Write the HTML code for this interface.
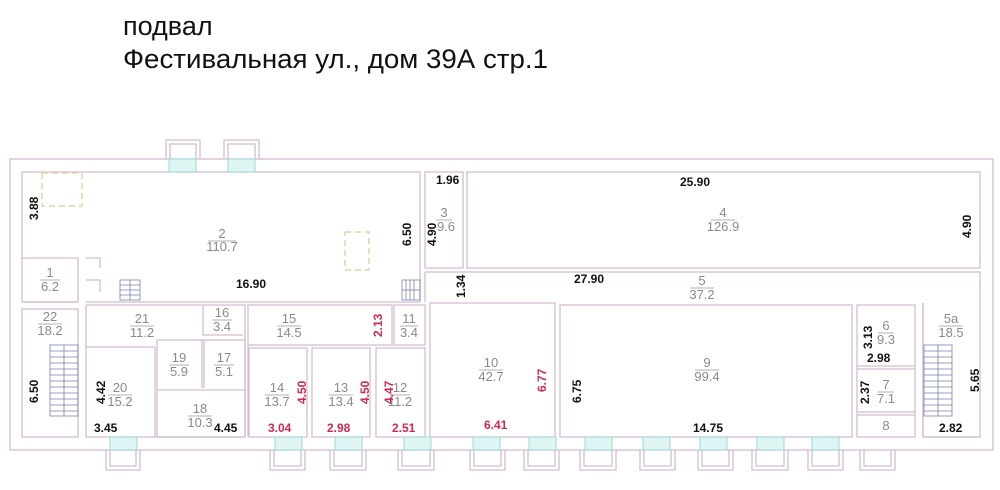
<!DOCTYPE html>
<html><head><meta charset="utf-8"><style>
html,body{margin:0;padding:0;background:#fff;width:1000px;height:490px;overflow:hidden}
svg{display:block}
.t{font-family:"Liberation Sans",sans-serif}
.d{font-family:"Liberation Sans",sans-serif;font-weight:bold;font-size:12px;fill:#111}
.r{font-family:"Liberation Sans",sans-serif;font-weight:bold;font-size:12px;fill:#d02858}
.n{font-family:"Liberation Sans",sans-serif;font-size:13px;fill:#8a8a8a;text-anchor:middle}
</style></head><body>
<svg width="1000" height="490" viewBox="0 0 1000 490" xmlns="http://www.w3.org/2000/svg">
<text class="t" x="123" y="35" font-size="27" fill="#111">подвал</text>
<text class="t" x="123" y="68" font-size="27" fill="#111" textLength="425" lengthAdjust="spacingAndGlyphs">Фестивальная ул., дом 39А стр.1</text>

<g fill="none" stroke="#d2bcd0" stroke-width="1.3">
<rect x="10" y="159" width="983" height="291"/>
<path d="M166 159V140H200V159M170 159V144H196V159M224 159V140H259V159M228 159V144H255V159"/>
<path d="M106 450V470H140V450M110 450V466H136V450"/>
<path d="M270 450V470H305V450M274 450V466H301V450M330 450V470H366V450M334 450V466H362V450M398 450V470H434V450M402 450V466H430V450M470 450V470H505V450M474 450V466H501V450M524 450V470H559V450M528 450V466H555V450M580 450V470H616V450M584 450V466H612V450M640 450V470H675V450M644 450V466H671V450M698 450V470H733V450M702 450V466H729V450M752 450V470H788V450M756 450V466H784V450M808 450V470H843V450M812 450V466H839V450M860 450V470H895V450M864 450V466H891V450"/>
<path d="M22 172H420V302M22 172V302H78"/>
<path d="M425 172H463V268H425Z"/>
<path d="M467 172H980V268H467Z"/>
<path d="M425 272H980V437H923V303M425 272V302"/>
<path d="M22 258H78V302H22"/>
<path d="M86 302H420M86 258H100V268M86 280H100V292"/>
<path d="M22 309H78V437H22Z"/>
<path d="M86 305V437H155V347H86M86 305H245V437H86"/>
<path d="M157 340V437H245V340ZM157 390H245M202 340V388M204 340V388M203 305V335H243"/>
<path d="M248 305H392V345H248ZM248 305V437M394 305H425V345H394Z"/>
<path d="M249 348H307V437H249ZM312 348H370V437H312ZM376 348H425V437H376Z"/>
<path d="M430 303H555V437H430Z"/>
<path d="M560 305H852V437H560Z"/>
<path d="M857 305H915V437H857ZM857 366H915M857 369H915M857 412H915M857 415H915"/>
<path d="M923 303V437H980"/>
</g>
<g fill="#dff5f3" stroke="#9ed8d2" stroke-width="1">
<rect x="169" y="159" width="27" height="13"/><rect x="228" y="159" width="27" height="13"/>
<rect x="110" y="437" width="27" height="13"/><rect x="275" y="437" width="27" height="13"/>
<rect x="335" y="437" width="27" height="13"/><rect x="404" y="437" width="27" height="13"/>
<rect x="473" y="437" width="27" height="13"/><rect x="529" y="437" width="27" height="13"/>
<rect x="585" y="437" width="27" height="13"/><rect x="643" y="437" width="27" height="13"/>
<rect x="700" y="437" width="27" height="13"/><rect x="757" y="437" width="27" height="13"/>
<rect x="812" y="437" width="27" height="13"/>
</g>
<g fill="none" stroke="#e6d2a8" stroke-width="1.5" stroke-dasharray="6,4">
<rect x="42" y="173" width="40" height="33"/><rect x="345" y="232" width="24" height="38"/>
</g>
<g fill="none" stroke="#7a80b0" stroke-width="0.8">
<rect x="50" y="345" width="28" height="71"/>
<path d="M50 351H78M50 357H78M50 363H78M50 369H78M50 375H78M50 381H78M50 387H78M50 393H78M50 399H78M50 405H78M50 411H78M64 345V416"/>
<rect x="924" y="345" width="28" height="71"/>
<path d="M924 351H952M924 357H952M924 363H952M924 369H952M924 375H952M924 381H952M924 387H952M924 393H952M924 399H952M924 405H952M924 411H952M938 345V416"/>
<rect x="120" y="280" width="20" height="20"/><path d="M120 285H140M120 290H140M120 295H140M130 280V300"/>
<rect x="402" y="280" width="18" height="20"/><path d="M406 280V300M410 280V300M414 280V300M402 290H420"/>
</g>
<g class="n">
<text x="222" y="238">2</text><text x="222" y="251">110.7</text>
<text x="50" y="277">1</text><text x="50" y="291">6.2</text>
<text x="444" y="217">3</text><text x="446" y="231">9.6</text>
<text x="723" y="217">4</text><text x="723" y="231">126.9</text>
<text x="702" y="285">5</text><text x="702" y="299">37.2</text>
<text x="50" y="321">22</text><text x="50" y="335">18.2</text>
<text x="142" y="323">21</text><text x="142" y="337">11.2</text>
<text x="222" y="317">16</text><text x="222" y="331">3.4</text>
<text x="289" y="323">15</text><text x="289" y="337">14.5</text>
<text x="409" y="323">11</text><text x="409" y="337">3.4</text>
<text x="179" y="362">19</text><text x="179" y="376">5.9</text>
<text x="224" y="362">17</text><text x="224" y="376">5.1</text>
<text x="120" y="392">20</text><text x="120" y="406">15.2</text>
<text x="200" y="413">18</text><text x="200" y="427">10.3</text>
<text x="277" y="392">14</text><text x="277" y="406">13.7</text>
<text x="341" y="392">13</text><text x="341" y="406">13.4</text>
<text x="400" y="392">12</text><text x="400" y="406">11.2</text>
<text x="491" y="367">10</text><text x="491" y="381">42.7</text>
<text x="707" y="367">9</text><text x="707" y="381">99.4</text>
<text x="886" y="330">6</text><text x="886" y="344">9.3</text>
<text x="886" y="389">7</text><text x="886" y="403">7.1</text>
<text x="886" y="430">8</text>
<text x="951" y="323">5a</text><text x="951" y="337">18.5</text>
</g>
<g stroke="#999" stroke-width="0.8">
<path d="M208 241H236M40 280H60M436 220H452M711 220H735M690 288H714M38 324H62M130 326H154M212 320H232M277 326H301M400 326H418M169 365H189M214 365H234M108 395H132M188 416H212M265 395H289M329 395H353M390 395H410M479 370H503M695 370H719M878 333H894M878 392H894M939 326H963"/>
</g>
<text class="d" x="236" y="288">16.90</text>
<text class="d" x="436" y="184">1.96</text>
<text class="d" x="680" y="186">25.90</text>
<text class="d" x="574" y="283">27.90</text>
<text class="d" x="94" y="432">3.45</text>
<text class="d" x="214" y="432">4.45</text>
<text class="r" x="268" y="432">3.04</text>
<text class="r" x="327" y="432">2.98</text>
<text class="r" x="392" y="432">2.51</text>
<text class="r" x="484" y="429">6.41</text>
<text class="d" x="693" y="432">14.75</text>
<text class="d" x="867" y="362">2.98</text>
<text class="d" x="939" y="432">2.82</text>
<g class="d">
<text transform="translate(38,220) rotate(-90)">3.88</text>
<text transform="translate(411,246) rotate(-90)">6.50</text>
<text transform="translate(436,246) rotate(-90)">4.90</text>
<text transform="translate(465,298) rotate(-90)">1.34</text>
<text transform="translate(971,238) rotate(-90)">4.90</text>
<text transform="translate(38,403) rotate(-90)">6.50</text>
<text transform="translate(105,404) rotate(-90)">4.42</text>
<text transform="translate(581,403) rotate(-90)">6.75</text>
<text transform="translate(872,349) rotate(-90)">3.13</text>
<text transform="translate(869,404) rotate(-90)">2.37</text>
<text transform="translate(979,392) rotate(-90)">5.65</text>
</g>
<g class="r">
<text transform="translate(382,337) rotate(-90)">2.13</text>
<text transform="translate(306,404) rotate(-90)">4.50</text>
<text transform="translate(369,404) rotate(-90)">4.50</text>
<text transform="translate(393,404) rotate(-90)">4.47</text>
<text transform="translate(546,392) rotate(-90)">6.77</text>
</g>
</svg>
</body></html>
